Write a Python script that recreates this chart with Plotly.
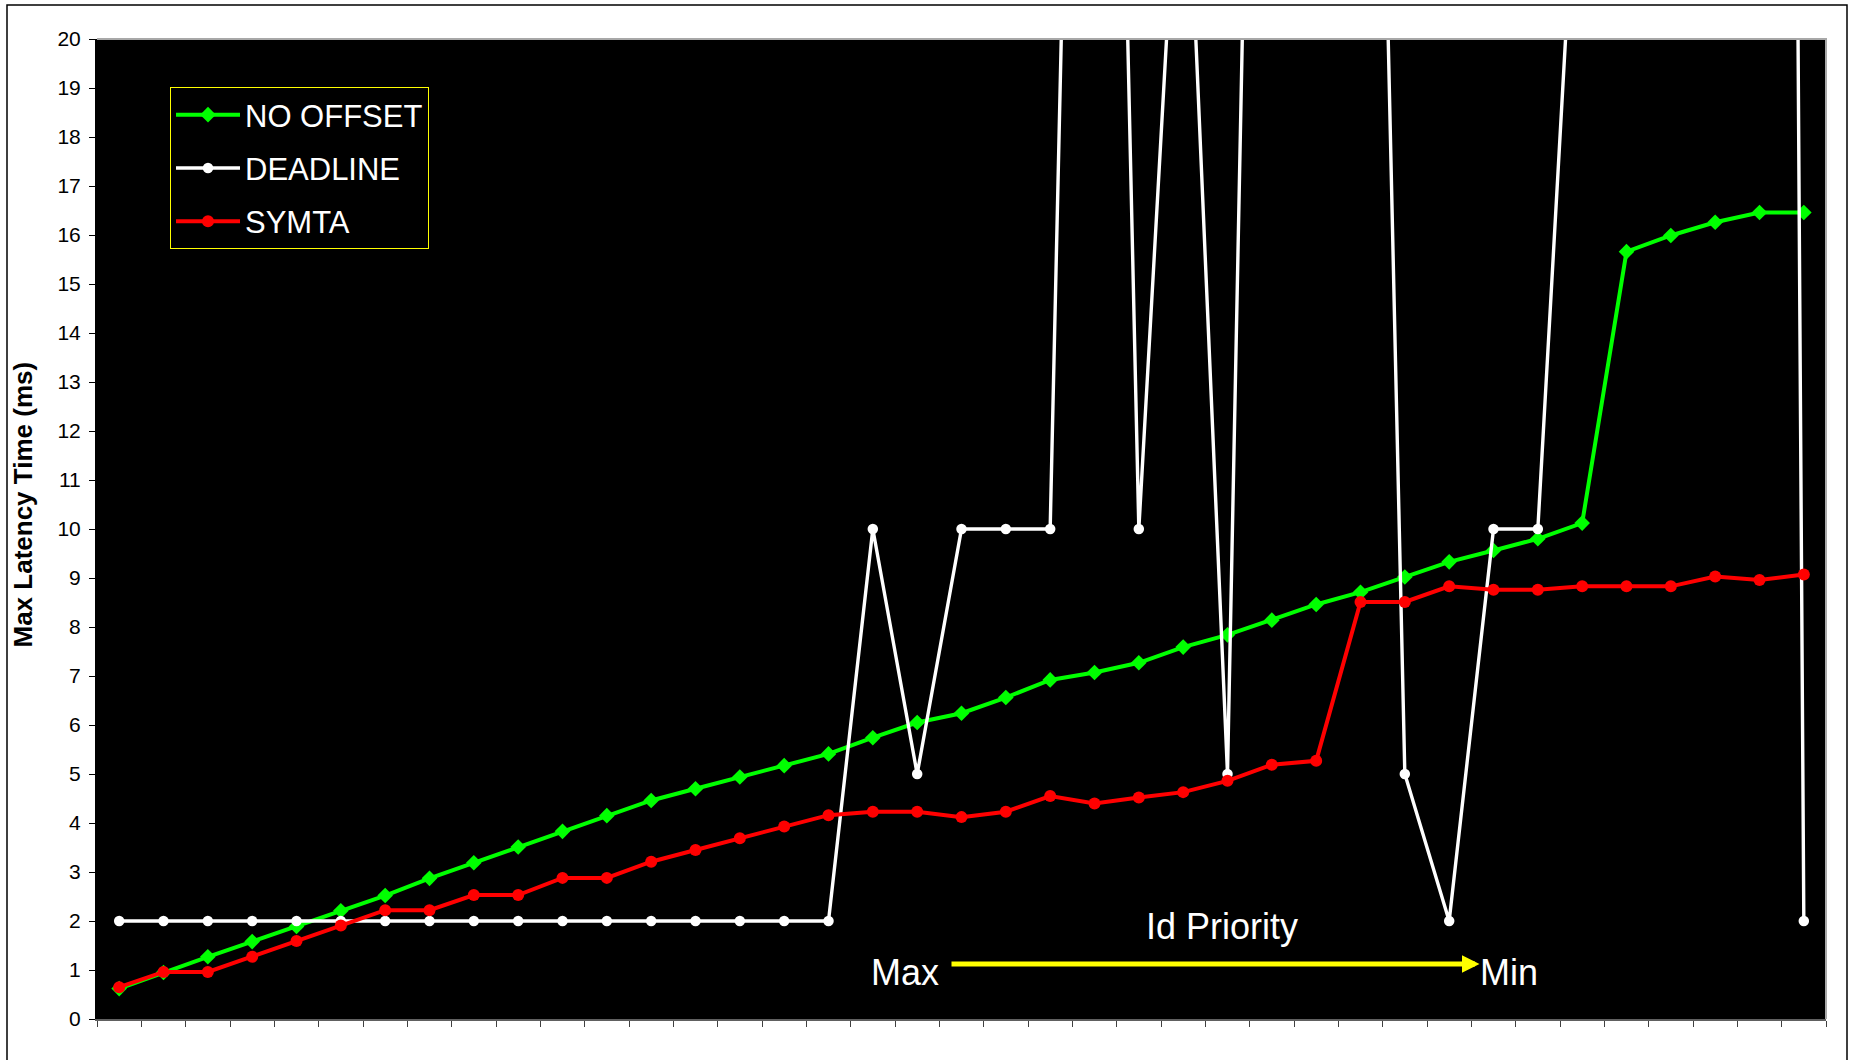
import plotly.graph_objects as go

# ---------------- data ----------------
ids = list(range(1, 40))  # task ids, from max priority (left) to min priority (right)

no_offset = [0.62, 0.95, 1.27, 1.58, 1.89, 2.21, 2.52, 2.87, 3.19, 3.51,
             3.83, 4.15, 4.46, 4.70, 4.94, 5.17, 5.41, 5.74, 6.05, 6.24,
             6.56, 6.92, 7.07, 7.27, 7.59, 7.84, 8.14, 8.46, 8.71, 9.02,
             9.33, 9.56, 9.80, 10.12, 15.66, 15.99, 16.26, 16.46, 16.46]

deadline = [2, 2, 2, 2, 2, 2, 2, 2, 2, 2,
            2, 2, 2, 2, 2, 2, 2, 10, 5, 10,
            10, 10, 50, 10, 26, 5, 50, 50, 45, 5,
            2, 10, 10, 26, 60, 80, 100, 140, 2]

symta = [0.65, 0.96, 0.96, 1.27, 1.59, 1.91, 2.22, 2.22, 2.53, 2.53,
         2.88, 2.88, 3.21, 3.45, 3.69, 3.93, 4.16, 4.23, 4.23, 4.12,
         4.23, 4.55, 4.40, 4.52, 4.63, 4.86, 5.19, 5.27, 8.51, 8.51,
         8.83, 8.76, 8.76, 8.83, 8.83, 8.83, 9.03, 8.96, 9.07]

y_ticks = list(range(0, 21))

# ---------------- geometry helpers ----------------
W, H = 1850, 1060
ML, MR, MT, MB = 97, 24, 39, 41
PW, PH = W - ML - MR, H - MT - MB


def xp(px):
    return (px - ML) / PW


def yp(py):
    return (H - MB - py) / PH


FONT = "Liberation Sans, Arial, sans-serif"

fig = go.Figure()

fig.add_trace(go.Scatter(
    x=ids, y=no_offset, name="NO OFFSET", mode="lines+markers",
    line=dict(color="#00FF00", width=4),
    marker=dict(symbol="diamond", size=12, color="#00FF00"),
    legendgroup="g1"))

fig.add_trace(go.Scatter(
    x=ids, y=deadline, name="DEADLINE", mode="lines+markers",
    line=dict(color="#FFFFFF", width=3.4),
    marker=dict(symbol="circle", size=10.5, color="#FFFFFF"),
    legendgroup="g2"))

fig.add_trace(go.Scatter(
    x=ids, y=symta, name="SYMTA", mode="lines+markers",
    line=dict(color="#FF0000", width=4),
    marker=dict(symbol="circle", size=12, color="#FF0000"),
    legendgroup="g3"))

boundaries = [i - 0.5 for i in ids] + [ids[-1] + 0.5]

fig.update_layout(
    width=W, height=H,
    margin=dict(l=ML, r=MR, t=MT, b=MB, autoexpand=False),
    paper_bgcolor="white",
    plot_bgcolor="black",
    font=dict(family=FONT, color="black"),
    showlegend=True,
    legend=dict(
        x=xp(170), y=yp(87), xanchor="left", yanchor="top",
        bgcolor="black", bordercolor="#FFFF00", borderwidth=1,
        font=dict(family=FONT, size=31, color="white"),
        tracegroupgap=10, itemwidth=64,
    ),
    xaxis=dict(
        range=[boundaries[0], boundaries[-1]],
        tickmode="array", tickvals=boundaries,
        showticklabels=False, ticks="outside", ticklen=6,
        tickcolor="#404040", tickwidth=1,
        showline=True, linecolor="#606060", linewidth=2,
        showgrid=False, zeroline=False,
    ),
    yaxis=dict(
        range=[0, 20], tickmode="array", tickvals=y_ticks,
        ticks="outside", ticklen=6, tickcolor="black", tickwidth=1,
        tickfont=dict(family=FONT, size=21, color="black"),
        ticklabelstandoff=4,
        showline=True, linecolor="black", linewidth=2,
        showgrid=False, zeroline=False,
    ),
)

# plot-area border (top & right, gray) and outer chart border
fig.add_shape(type="path", xref="paper", yref="paper",
              path="M0,1 L1,1 L1,0", line=dict(color="#A8A8A8", width=2))
fig.add_shape(type="rect", xref="paper", yref="paper",
              x0=xp(7), x1=xp(1847), y0=yp(1085), y1=yp(5),
              line=dict(color="black", width=1.5), fillcolor="rgba(0,0,0,0)")

# axis title
fig.add_annotation(text="<b>Max Latency Time (ms)</b>", xref="paper", yref="paper",
                   x=xp(22.5), y=yp(505), textangle=-90, showarrow=False,
                   xanchor="center", yanchor="middle",
                   font=dict(family=FONT, size=26, color="black"))

# priority annotations
fig.add_annotation(text="Id Priority", xref="paper", yref="paper",
                   x=xp(1222), y=yp(926.5), showarrow=False,
                   xanchor="center", yanchor="middle",
                   font=dict(family=FONT, size=36, color="white"))
fig.add_annotation(text="Max", xref="paper", yref="paper",
                   x=xp(904.5), y=yp(972.5), showarrow=False,
                   xanchor="center", yanchor="middle",
                   font=dict(family=FONT, size=36, color="white"))
fig.add_annotation(text="Min", xref="paper", yref="paper",
                   x=xp(1509), y=yp(972.5), showarrow=False,
                   xanchor="center", yanchor="middle",
                   font=dict(family=FONT, size=36, color="white"))
fig.add_annotation(text="", xref="paper", yref="paper",
                   x=xp(1479.5), y=yp(964), ax=-(1479.5 - 950), ay=0,
                   showarrow=True, arrowhead=2, arrowsize=0.7, arrowwidth=5,
                   arrowcolor="#FFFF00", standoff=0)

fig.write_html("out.html", config={"displayModeBar": False},
               post_script="document.body.style.margin='0';")
